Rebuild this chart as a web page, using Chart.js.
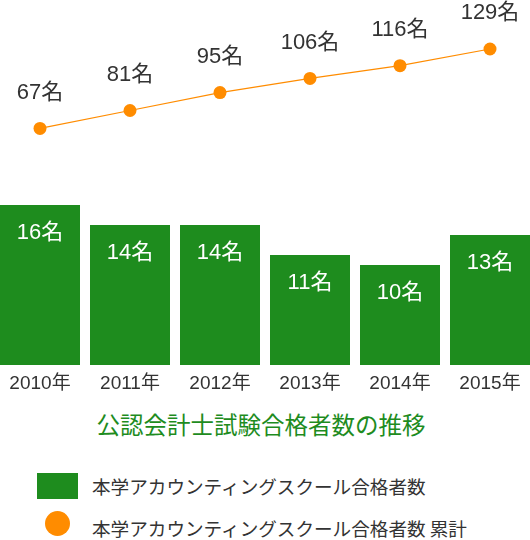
<!DOCTYPE html>
<html lang="ja">
<head>
  <meta charset="UTF-8" />
  <title>公認会計士試験合格者数の推移</title>
  <script src="https://cdn.jsdelivr.net/npm/chart.js"></script>
  <style>
    body {
      margin: 0;
      background: #fff;
      font-family: "Liberation Sans", "Noto Sans CJK JP", sans-serif;
      color: #333;
    }
    .wrap {
      position: relative;
      width: 530px;
      height: 540px;
      overflow: hidden;
    }
    .chart-box {
      position: absolute;
      left: -5px;
      top: 0;
      width: 540px;
      height: 400px;
    }
    .title {
      position: absolute;
      left: 0;
      top: 407px;
      width: 522px;
      text-align: center;
      font-size: 23.5px;
      color: #1e8c1e;
      font-family: "Noto Sans CJK JP", sans-serif;
    }
    .legend-row {
      position: absolute;
      left: 0;
      font-size: 18.6px;
      font-family: "Noto Sans CJK JP", sans-serif;
      color: #333;
    }
    .swatch-bar {
      position: absolute;
      left: 37px;
      top: 473px;
      width: 41px;
      height: 26px;
      background: #1e8c1e;
    }
    .swatch-dot {
      position: absolute;
      left: 45px;
      top: 511px;
      width: 25px;
      height: 25px;
      border-radius: 50%;
      background: #ff8c00;
    }
  </style>
</head>
<body>
  <div class="wrap">
    <div class="chart-box">
      <canvas id="chart" width="540" height="400"></canvas>
    </div>
    <div class="title">公認会計士試験合格者数の推移</div>
    <div class="swatch-bar"></div>
    <div class="legend-row" style="left:92px; top:472px;">本学アカウンティングスクール合格者数</div>
    <div class="swatch-dot"></div>
    <div class="legend-row" style="left:92px; top:514px;">本学アカウンティングスクール合格者数 累計</div>
  </div>

  <script>
    const years = ['2010年', '2011年', '2012年', '2013年', '2014年', '2015年'];
    const passed = [16, 14, 14, 11, 10, 13];
    const cumulative = [67, 81, 95, 106, 116, 129];

    // draws the "xx名" labels on bars and above points
    const valueLabels = {
      id: 'valueLabels',
      afterDatasetsDraw(chart) {
        const ctx = chart.ctx;
        ctx.save();
        ctx.font = '22px "Liberation Sans", "Noto Sans CJK JP", sans-serif';
        ctx.textAlign = 'center';
        ctx.textBaseline = 'middle';

        chart.getDatasetMeta(0).data.forEach((el, i) => {
          ctx.fillStyle = '#fff';
          ctx.fillText(passed[i] + '名', el.x, el.y + 28);
        });
        chart.getDatasetMeta(1).data.forEach((el, i) => {
          ctx.fillStyle = '#333';
          ctx.fillText(cumulative[i] + '名', el.x, el.y - 36);
        });
        ctx.restore();
      }
    };

    const ctx = document.getElementById('chart').getContext('2d');

    new Chart(ctx, {
      data: {
        labels: years,
        datasets: [
          {
            type: 'bar',
            label: '本学アカウンティングスクール合格者数',
            data: passed,
            backgroundColor: '#1e8c1e',
            barPercentage: 80 / 90,
            categoryPercentage: 1,
            yAxisID: 'y',
            order: 2
          },
          {
            type: 'line',
            label: '本学アカウンティングスクール合格者数 累計',
            data: cumulative,
            borderColor: '#ff8c00',
            borderWidth: 1.2,
            pointRadius: 6.5,
            pointBackgroundColor: '#ff8c00',
            pointBorderWidth: 0,
            tension: 0,
            clip: false,
            yAxisID: 'y2',
            order: 1
          }
        ]
      },
      options: {
        responsive: false,
        animation: false,
        layout: { padding: 0, autoPadding: false },
        plugins: {
          legend: { display: false },
          tooltip: { enabled: false }
        },
        scales: {
          x: {
            grid: { display: false, drawTicks: false },
            border: { display: false },
            ticks: {
              color: '#333',
              padding: 7,
              font: { size: 19, family: '"Liberation Sans", "Noto Sans CJK JP", sans-serif' }
            },
            afterFit(scale) { scale.height = 35; }
          },
          y: {
            display: false,
            min: 0,
            max: 36.5
          },
          y2: {
            display: false,
            min: -117.5,
            max: 167.2
          }
        }
      },
      plugins: [valueLabels]
    });
  </script>
</body>
</html>
